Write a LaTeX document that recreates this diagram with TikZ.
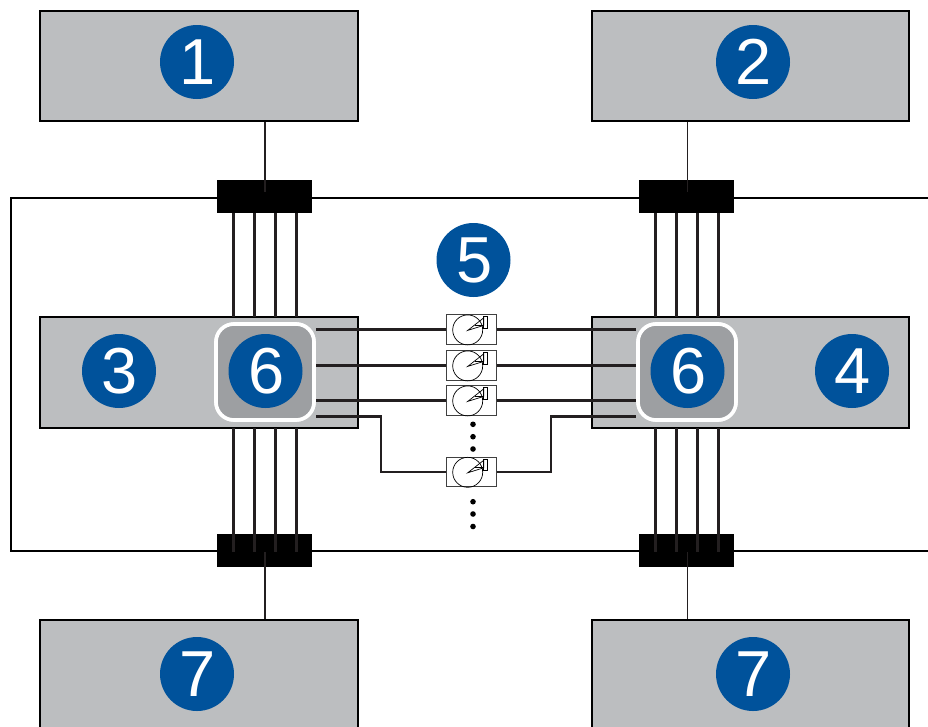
\documentclass[tikz,border=0pt]{standalone}
\usepackage{fontspec}
\setmainfont{Liberation Sans}
\definecolor{boxgray}{HTML}{BCBEC0}
\definecolor{midgray}{HTML}{9D9FA2}
\definecolor{badge}{HTML}{00529B}
\definecolor{wire}{HTML}{231F20}
\tikzset{
  panel/.style={draw=black,line width=2pt,fill=boxgray,minimum width=317.5pt,minimum height=110.5pt,inner sep=0pt},
  port/.style={fill=black,minimum width=95pt,minimum height=33pt,inner sep=0pt},
  ctrl/.style={draw=white,line width=3.6pt,fill=midgray,rounded corners=18pt,minimum width=98pt,minimum height=96pt,inner sep=0pt},
  numdot/.style={circle,fill=badge,text=white,minimum size=74pt,inner sep=0pt,font=\fontsize{65}{65}\selectfont},
  wirebold/.style={draw=wire,line width=2.6pt},
  wirethin/.style={draw=wire,line width=1.8pt},
  drivebox/.style={draw=black!75,line width=1pt,fill=white,minimum width=49.5pt,minimum height=29.5pt,inner sep=0pt},
  dotmark/.style={circle,fill=black,minimum size=5.6pt,inner sep=0pt},
}
\newcommand{\drivemark}[1]{%
  \draw[line width=.7pt] ([xshift=-4pt,yshift=-.5pt]#1.center) circle (15pt);
  \draw[line width=.7pt] ([xshift=12pt,yshift=12.8pt]#1.center) rectangle ([xshift=16pt,yshift=1.2pt]#1.center);
  \draw[line width=.7pt] ([xshift=-4pt,yshift=-1pt]#1.center) -- ([xshift=12pt,yshift=11.5pt]#1.center)
     -- ([xshift=12pt,yshift=4pt]#1.center) -- cycle;
  \draw[line width=.7pt] ([xshift=3.5pt,yshift=4pt]#1.center) -- ([xshift=12pt,yshift=4pt]#1.center);
}
\newcommand{\digit}[1]{\hspace*{1.6pt}#1}
\begin{document}
\begin{tikzpicture}[x=1pt,y=-1pt]
\useasboundingbox (0,0) rectangle (928,726);
\clip (0,0) rectangle (928,726);
% enclosure
\coordinate (encTR) at (928,197.5);
\coordinate (encTL) at (11,197.5);
\coordinate (encBL) at (11,551);
\coordinate (encBR) at (928,551);
\draw[line width=2pt,draw=black] (encTR) -- (encTL) -- (encBL) -- (encBR);
% panels
\node[panel] (p1) at (199,66) {};
\node[panel] (p2) at (750.3,66) {};
\node[panel] (p3) at (199,372.5) {};
\node[panel] (p4) at (750.3,372.5) {};
\node[panel,minimum height=140pt] (p7a) at (199,690) {};
\node[panel,minimum height=140pt] (p7b) at (750.3,690) {};
% ports
\node[port] (tl) at (264.5,196.5) {};
\node[port] (tr) at (686.5,196.5) {};
\node[port] (bl) at (264.5,550.5) {};
\node[port] (br) at (686.5,550.5) {};
% uplinks
\coordinate (tlin) at (265,192);
\coordinate (trin) at (687.5,192);
\coordinate (blin) at (265,552);
\coordinate (brin) at (687.5,552);
\draw[wirethin] (tlin) -- (tlin |- p1.south);
\draw[wirethin] (trin) -- (trin |- p2.south);
\draw[wirethin] (blin) -- (blin |- p7a.north);
\draw[wirethin] (brin) -- (brin |- p7b.north);
% vertical buses
\foreach \x in {233.3,254.3,275.5,296.5}{
  \draw[wirebold] (\x,213) -- (\x,317);
  \draw[wirebold] (\x,428) -- (\x,552);
}
\foreach \x in {655.3,676.3,697.5,718.5}{
  \draw[wirebold] (\x,213) -- (\x,317);
  \draw[wirebold] (\x,428) -- (\x,552);
}
% drives
\node[drivebox] (d1) at (471.7,329.4) {};
\node[drivebox] (d2) at (471.7,365.4) {};
\node[drivebox] (d3) at (471.7,400.4) {};
\node[drivebox] (d4) at (471.7,471.8) {};
\node[ctrl] (cl) at (265,372) {};
\node[ctrl] (cr) at (687,372) {};
% horizontal links
\foreach \d in {d1,d2,d3}{
  \draw[wirebold] (\d.west) -- (\d.west -| cl.east);
  \draw[wirebold] (\d.east) -- (\d.east -| cr.west);
}
\coordinate (jl) at (381,416.7);
\coordinate (jr) at (551,416.7);
\draw[wirebold] (d4.west) -- (d4.west -| jl) -- (jl) -- (jl -| cl.east);
\draw[wirebold] (d4.east) -- (d4.east -| jr) -- (jr) -- (jr -| cr.west);
\node[ctrl] at (265,372) {};
\node[ctrl] at (687,372) {};
\foreach \d in {d1,d2,d3,d4}{\drivemark{\d}}
% ellipsis dots
\node[dotmark] (u1) at (473,424.3) {};
\node[dotmark] (u2) at (473,436.7) {};
\node[dotmark] (u3) at (473,449) {};
\node[dotmark] (v1) at (473,501.7) {};
\node[dotmark] (v2) at (473,514) {};
\node[dotmark] (v3) at (473,526.5) {};
% number badges
\node[numdot] (n1) at (197,62) {\digit{1}};
\node[numdot] (n2) at (753,62) {\digit{2}};
\node[numdot] (n3) at (119,371) {\digit{3}};
\node[numdot] (n4) at (852,371) {\digit{4}};
\node[numdot] (n5) at (473.5,260) {\digit{5}};
\node[numdot] (n6a) at (265.5,371) {\digit{6}};
\node[numdot] (n6b) at (687.5,371) {\digit{6}};
\node[numdot] (n7a) at (197,674) {\digit{7}};
\node[numdot] (n7b) at (753,674) {\digit{7}};
\end{tikzpicture}
\end{document}
